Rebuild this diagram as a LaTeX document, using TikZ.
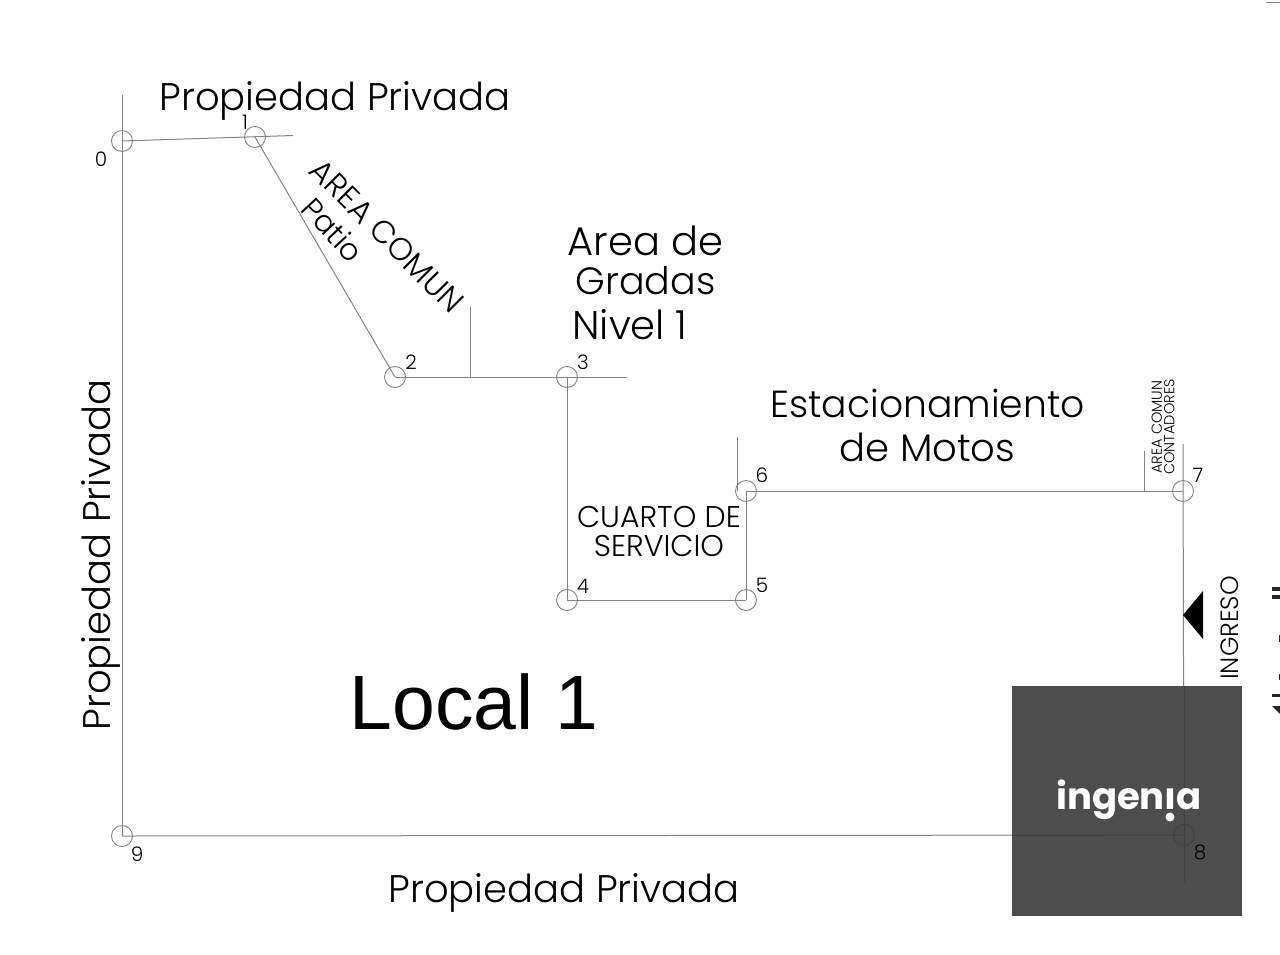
\documentclass[tikz,border=0pt]{standalone}
\usepackage{fontspec}
\setmainfont{Poppins Light}
\newfontfamily\arialf{Liberation Sans}
\newfontfamily\logof{Poppins Bold}
\definecolor{ln}{HTML}{858585}
\definecolor{wm}{HTML}{4D4D4D}
\newcommand{\fsz}[1]{\fontsize{#1}{#1}\selectfont}
\tikzset{
  wall/.style={draw=ln,line width=1pt},
  thin wall/.style={draw=ln,line width=1pt},
  vertex/.style={circle,draw=ln,line width=0.9pt,minimum size=21pt,inner sep=0pt,fill=none},
  numlab/.style={font=\fsz{20},text=black,inner sep=0pt},
  biglab/.style={font=\fsz{40},text=black,inner sep=0pt,align=center},
  midlab/.style={font=\fsz{30},text=black,inner sep=0pt,align=center},
  edgebit/.style={fill=black!85,draw=none},
}
\begin{document}
\begin{tikzpicture}[x=1pt,y=-1pt]
\useasboundingbox (0,0) rectangle (1280,954);
\fill[white] (0,0) rectangle (1280,954);
% vertices
\node[vertex] (v0) at (122,141) {};
\node[vertex] (v1) at (255,137) {};
\node[vertex] (v2) at (395,377) {};
\node[vertex] (v3) at (567,377) {};
\node[vertex] (v4) at (567,600) {};
\node[vertex] (v5) at (746,600) {};
\node[vertex] (v6) at (746,491) {};
\node[vertex] (v7) at (1183,491) {};
\node[vertex] (v8) at (1184,835) {};
\node[vertex] (v9) at (122,836) {};
\coordinate (c0) at (122,95);
\coordinate (c1) at (293,135.5);
\coordinate (c3) at (627,377);
\coordinate (c6) at (737,437);
\coordinate (c6b) at (737,491);
\coordinate (c7) at (1183,444);
\coordinate (c8) at (1184,882);
\coordinate (c2t) at (470,307);
\coordinate (c2b) at (470,377);
\coordinate (c7t) at (1144,451);
\coordinate (c7b) at (1144,491);
% walls
\draw[wall] (v0.center) -- (c1);
\draw[wall] (c0) -- (v9.center);
\draw[wall] (v1.center) -- (v2.center);
\draw[wall] (v2.center) -- (c3);
\draw[wall] (v3.center) -- (v4.center);
\draw[wall] (v4.center) -- (v5.center);
\draw[wall] (v5.center) -- (v6.center);
\draw[wall] (v6.center) -- (v7.center);
\draw[wall] (c7) -- (c8);
\draw[wall] (v9.center) -- (v8.center);
\draw[thin wall] (c2t) -- (c2b);
\draw[thin wall] (c6) -- (c6b);
\draw[thin wall] (c7t) -- (c7b);
% entrance arrow
\coordinate (a1) at (1183,615);
\coordinate (a2) at (1203,591);
\coordinate (a3) at (1203,639);
\fill[black] (a1) -- (a2) -- (a3) -- cycle;
% labels
\node[biglab,font=\fsz{38.5}] (t1) at (335,101) {Propiedad Privada};
\node[biglab,font=\fsz{38.5},rotate=90] (t2) at (101,555) {Propiedad Privada};
\node[biglab,font=\fsz{38.5}] (t3) at (564,893) {Propiedad Privada};
\node[biglab] (t4) at (645.5,241) {Area de};
\node[biglab,font=\fsz{38}] (t5) at (645.5,281) {Gradas};
\node[biglab] (t6) at (630,325) {Nivel 1};
\node[biglab,font=\fsz{37.7}] (t7) at (927.5,403) {Estacionamiento};
\node[biglab,font=\fsz{38.5}] (t8) at (927.5,447) {de Motos};
\node[midlab] (t9) at (659,517) {CUARTO DE};
\node[midlab] (t10) at (659,546) {SERVICIO};
\node[midlab,font=\fsz{31.5},rotate=-45] (t11) at (387,236) {AREA COMUN};
\node[midlab,rotate=-47] (t12) at (333,230) {Patio};
\node[font=\fsz{14.5},text=black,inner sep=0pt,rotate=90,align=center] (t13) at (1163,427) {AREA COMUN\\[-2pt]CONTADORES};
\node[midlab,font=\fsz{25},rotate=90] (t14) at (1230,628) {INGRESO};
\node[font=\arialf\fsz{77},text=black,inner sep=0pt] (t15) at (474,702) {Local 1};
\node[numlab] at (101,159) {0};
\node[numlab] at (245,122) {1};
\node[numlab] at (411,362) {2};
\node[numlab] at (583,362) {3};
\node[numlab] at (583,586) {4};
\node[numlab] at (762,585) {5};
\node[numlab] at (762,475) {6};
\node[numlab] at (1198,475) {7};
\node[numlab] at (137,854) {9};
% fragments cut by the right and top edges
\fill[edgebit] (1272,587) rectangle (1280,590.5);
\fill[edgebit] (1272,595) rectangle (1280,598.5);
\fill[edgebit] (1279,635) rectangle (1280,642);
\fill[edgebit] (1279,674) rectangle (1280,680);
\fill[edgebit] (1272,694) rectangle (1280,697);
\fill[edgebit] (1272,706) -- (1280,706) -- (1280,714) -- cycle;
\fill[ln] (1266,1.5) rectangle (1280,3);
% watermark
\fill[wm] (1012,686) rectangle (1242,916);
\draw[black!75,line width=1pt] (1012,835.5) -- (v8.center);
\draw[black!75,line width=1pt] (1184,686) -- (c8);
\node[circle,draw=black!75,line width=0.9pt,minimum size=21pt,inner sep=0pt] at (1184,835) {};
\node[numlab] at (1200,852) {8};
\node[font=\logof\fsz{37},text=white,inner sep=0pt] at (1129,800) {ingen\i a};
\fill[white] (1170,817) circle (4.5pt);
\end{tikzpicture}
\end{document}
